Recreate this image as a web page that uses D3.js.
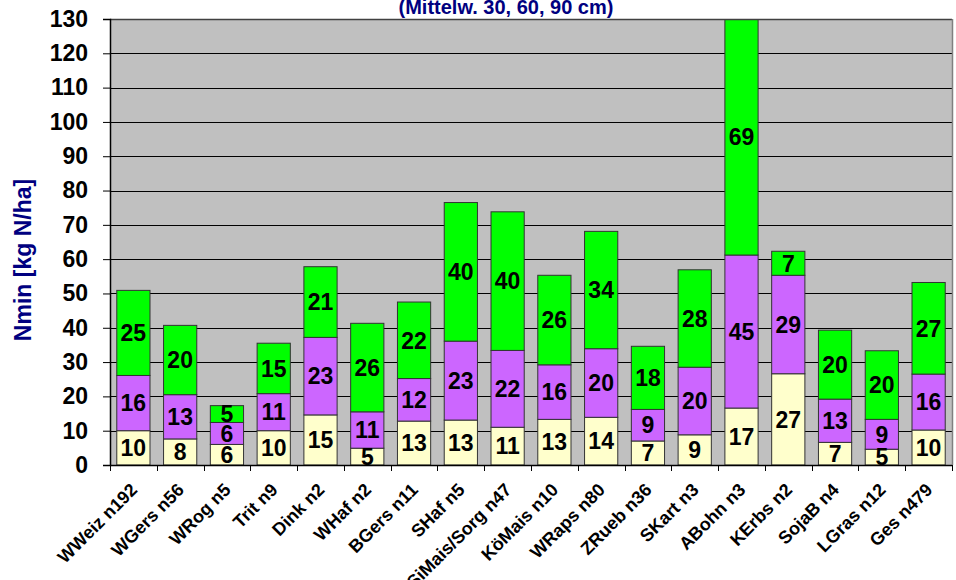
<!DOCTYPE html>
<html>
<head>
<meta charset="utf-8">
<script src="https://cdn.jsdelivr.net/npm/d3@7"></script>
<style>
  html, body { margin: 0; padding: 0; background: #ffffff; }
  svg { display: block; font-family: "Liberation Sans", Arial, sans-serif; }
</style>
</head>
<body>
<svg id="chart" width="956" height="580"></svg>
<script>
// ---- data ----
const categories = ["WWeiz n192","WGers n56","WRog n5","Trit n9","Dink n2","WHaf n2","BGers n11","SHaf n5","SiMais/Sorg n47","KöMais n10","WRaps n80","ZRueb n36","SKart n3","ABohn n3","KErbs n2","SojaB n4","LGras n12","Ges n479"];
const depth0_30  = [10.0, 7.6, 6.0, 10.0, 14.6, 4.9, 12.8, 13.1, 11.0, 13.3, 13.9, 7.0, 8.8, 16.6, 26.6, 6.6, 4.6, 10.2];
const depth30_60 = [16.1, 12.9, 6.4, 10.8, 22.6, 10.6, 12.4, 23.0, 22.4, 15.9, 20.0, 9.2, 19.7, 44.6, 28.7, 12.6, 8.7, 16.3];
const depth60_90 = [24.8, 20.2, 4.9, 14.7, 20.6, 25.8, 22.3, 40.4, 40.4, 26.1, 34.2, 18.4, 28.4, 69.0, 7.0, 20.1, 20.0, 26.7];
const seriesNames = ["0-30 cm", "30-60 cm", "60-90 cm"];
const yTicks = [0,10,20,30,40,50,60,70,80,90,100,110,120,130];
const titleText = "(Mittelw. 30, 60, 90 cm)";
const yTitle = "Nmin [kg N/ha]";

// ---- layout ----
const svg = d3.select("#chart");
const pL = 110, pR = 952, pT = 19, pB = 465;
const colors = ["#FFFFCC", "#CC66FF", "#00FF00"];
const font = "'Liberation Sans', Arial, sans-serif";

const x = d3.scaleBand().domain(categories).range([pL, pR]).paddingInner(0.29).paddingOuter(0.145);
const y = d3.scaleLinear().domain([0, 130]).range([pB, pT]);

const rows = categories.map((c, i) => ({ cat: c, s0: depth0_30[i], s1: depth30_60[i], s2: depth60_90[i] }));
const stacked = d3.stack().keys(["s0", "s1", "s2"])(rows);

// plot background
svg.append("rect").attr("x", pL).attr("y", pT).attr("width", pR - pL).attr("height", pB - pT)
  .attr("fill", "#C0C0C0");

// gridlines
svg.append("g").selectAll("line").data(yTicks.filter(t => t > 0 && t < 130)).join("line")
  .attr("x1", pL).attr("x2", pR)
  .attr("y1", d => Math.round(y(d)) + 0.5).attr("y2", d => Math.round(y(d)) + 0.5)
  .attr("stroke", "#000").attr("stroke-width", 1);

// clip
svg.append("clipPath").attr("id", "plotclip").append("rect")
  .attr("x", pL).attr("y", pT).attr("width", pR - pL).attr("height", pB - pT);

const gBars = svg.append("g").attr("clip-path", "url(#plotclip)");
stacked.forEach((layer, li) => {
  gBars.append("g").selectAll("rect").data(layer).join("rect")
    .attr("x", d => x(d.data.cat))
    .attr("width", x.bandwidth())
    .attr("y", d => y(Math.min(d[1], 130)))
    .attr("height", d => y(d[0]) - y(Math.min(d[1], 130)))
    .attr("fill", colors[li])
    .attr("stroke", "#333")
    .attr("stroke-width", 1);
});

// segment labels
const gLab = svg.append("g");
stacked.forEach((layer, li) => {
  gLab.append("g").selectAll("text").data(layer).join("text")
    .attr("x", d => x(d.data.cat) + x.bandwidth() / 2)
    .attr("y", d => (y(d[0]) + y(Math.min(d[1], 130))) / 2)
    .attr("dy", "0.36em")
    .attr("text-anchor", "middle")
    .attr("font-family", font).attr("font-weight", "bold").attr("font-size", 23)
    .attr("fill", "#000")
    .text(d => Math.round(d[1] - d[0]));
});

// border: top and right
svg.append("line").attr("x1", pL).attr("x2", pR).attr("y1", pT + 0.5).attr("y2", pT + 0.5)
  .attr("stroke", "#404040").attr("stroke-width", 1.5);
svg.append("line").attr("x1", pR + 0.5).attr("x2", pR + 0.5).attr("y1", pT).attr("y2", pB)
  .attr("stroke", "#808080").attr("stroke-width", 1.5);

// y axis
const yAxis = d3.axisLeft(y).tickValues(yTicks).tickSize(7).tickPadding(15).tickFormat(d3.format("d"));
const gy = svg.append("g").attr("transform", `translate(${pL},0)`).call(yAxis);
gy.select(".domain").attr("stroke", "#000").attr("stroke-width", 1.5);
gy.selectAll(".tick line").attr("stroke", "#000");
gy.selectAll(".tick text").attr("font-family", font).attr("font-weight", "bold").attr("font-size", 23).attr("fill", "#000");

// x axis line
svg.append("line").attr("x1", pL).attr("x2", pR).attr("y1", pB + 0.5).attr("y2", pB + 0.5)
  .attr("stroke", "#000").attr("stroke-width", 1.5);
// x tick marks at category boundaries
const step = x.step();
const bounds = categories.map(c => x(c) - step * x.paddingInner() / 2).concat([pR]);
svg.append("g").selectAll("line").data(bounds).join("line")
  .attr("x1", d => Math.round(d) + 0.5).attr("x2", d => Math.round(d) + 0.5)
  .attr("y1", pB).attr("y2", pB + 6)
  .attr("stroke", "#000").attr("stroke-width", 1);

// x labels
svg.append("g").selectAll("text").data(categories).join("text")
  .attr("transform", d => `translate(${x(d) + x.bandwidth() / 2 + 5},${491}) rotate(-45)`)
  .attr("text-anchor", "end")
  .attr("font-family", font).attr("font-weight", "bold").attr("font-size", 18)
  .attr("fill", "#000")
  .text(d => d);

// title
svg.append("text").attr("x", 506).attr("y", 14).attr("text-anchor", "middle")
  .attr("font-family", font).attr("font-weight", "bold").attr("font-size", 20)
  .attr("fill", "#000080").text(titleText);

// y title
svg.append("text").attr("transform", "translate(31,260) rotate(-90)")
  .attr("text-anchor", "middle")
  .attr("font-family", font).attr("font-weight", "bold").attr("font-size", 23)
  .attr("fill", "#000080").text(yTitle);
</script>
</body>
</html>
